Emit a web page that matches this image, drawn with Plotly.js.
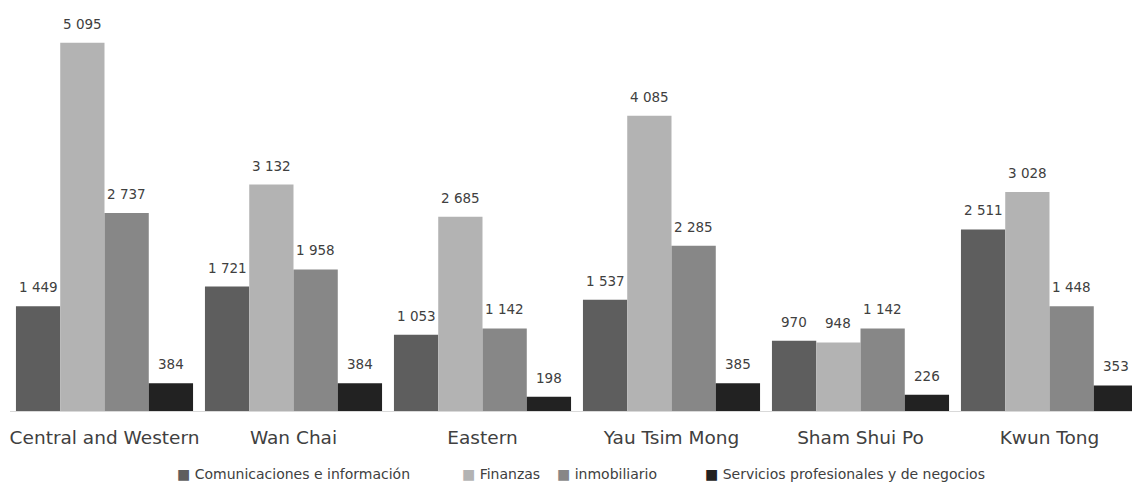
<!DOCTYPE html>
<html><head><meta charset="utf-8">
<script src="https://cdn.plot.ly/plotly-3.0.1.min.js"></script>
<style>html,body{margin:0;padding:0;overflow:hidden;background:#fff}</style>
</head><body>
<div id="chart"></div>
<script>
const categories = ["Central and Western","Wan Chai","Eastern","Yau Tsim Mong","Sham Shui Po","Kwun Tong"];
const seriesNames = ["Comunicaciones e información","Finanzas","inmobiliario","Servicios profesionales y de negocios"];
const comunicaciones = [1449, 1721, 1053, 1537, 970, 2511];
const finanzas = [5095, 3132, 2685, 4085, 948, 3028];
const inmobiliario = [2737, 1958, 1142, 2285, 1142, 1448];
const servicios = [384, 384, 198, 385, 226, 353];
const colors = ["#5e5e5e","#b3b3b3","#878787","#222222"];

const BARGAP = 0.063;
const all = [comunicaciones, finanzas, inmobiliario, servicios];
function fmt(v){ return String(v).replace(/\B(?=(\d{3})+(?!\d))/g, " "); }

const traces = all.map((vals,i)=>({
  type:'bar', x:categories, y:vals, name:seriesNames[i],
  marker:{color:colors[i]}, hoverinfo:'none', showlegend:false
}));

const annotations = [];
const bw = (1 - BARGAP) / all.length;
all.forEach((vals,k)=>{
  vals.forEach((v,j)=>{
    annotations.push({
      x: j + (k - (all.length-1)/2) * bw, y: v, xref:'x', yref:'y',
      text: fmt(v), showarrow:false, yanchor:'middle', xanchor:'center', yshift:19,
      font:{family:'DejaVu Sans, sans-serif', size:13.5, color:'#404040'}
    });
  });
});
// legend as text items
const legendX = [0.1455, 0.3968, 0.4806, 0.6111];
seriesNames.forEach((n,i)=>{
  annotations.push({
    x: legendX[i], y: -0.161, xref:'paper', yref:'paper', xanchor:'left', yanchor:'middle',
    showarrow:false,
    text: '<span style="color:'+colors[i]+'">■</span> ' + n,
    font:{family:'DejaVu Sans, sans-serif', size:14, color:'#404040'}
  });
});

const layout = {
  width:1146, height:483,
  margin:{l:10, r:2, t:20, b:72},
  barmode:'group', bargap:BARGAP, bargroupgap:0,
  paper_bgcolor:'#fff', plot_bgcolor:'#fff',
  xaxis:{showline:true, linecolor:'#d9d9d9', linewidth:1, ticks:'',
    tickfont:{family:'DejaVu Sans, sans-serif', size:18.5, color:'#404040'}, ticklabelstandoff:10},
  yaxis:{range:[0,5408], visible:false, showgrid:false, zeroline:false},
  showlegend:false,
  annotations: annotations
};
Plotly.newPlot('chart', traces, layout, {displayModeBar:false, staticPlot:true});
</script>
</body></html>
